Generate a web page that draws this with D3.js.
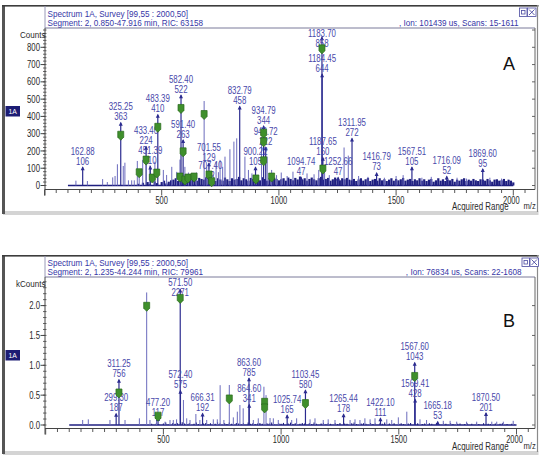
<!DOCTYPE html>
<html>
<head>
<meta charset="utf-8">
<title>Spectrum 1A</title>
<script src="https://cdn.jsdelivr.net/npm/d3@7/dist/d3.min.js"></script>
<style>
  body { margin: 0; background: #ffffff; }
  text { font-family: "Liberation Sans", Arial, sans-serif; }
</style>
</head>
<body>
<div id="chart"></div>
<script>
// ---------------- panel A data ----------------
var titleA = 'Spectrum 1A, Survey [99,55 : 2000,50]';
var segmentA = 'Segment: 2, 0.850-47.916 min, RIC: 63158';
var ionA = ', Ion: 101439 us, Scans: 15-1611';

// labelled peaks (m/z, counts)
var labelMzA = [162.88, 325.25, 433.40, 451.39, 483.39, 582.40, 591.40, 701.55, 707.40, 832.79, 900.22, 934.79, 943.72,
  1094.74, 1183.70, 1184.45, 1187.65, 1252.66, 1311.95, 1416.79, 1567.51, 1716.09, 1869.60];
var labelIntA = [106, 363, 224, 110, 410, 522, 263, 129, 22, 458, 105, 344, 222,
  47, 858, 644, 160, 47, 272, 73, 105, 52, 95];

// other visible peaks (m/z, counts)
var peakMzA = [134, 183, 248, 268, 291, 301, 311, 336, 343, 358, 372, 383, 396, 404, 419, 450, 471, 507, 521, 543,
  564, 578, 599, 614, 628, 649, 681, 692, 720, 732, 742, 749, 760, 770, 791, 808, 820, 855, 870, 885, 926, 950,
  969, 990, 1010, 1035, 1060, 1120, 1150, 1170, 1195, 1215, 1278, 1296, 1340, 1380, 1450, 1500, 1530, 1610, 1650,
  1760, 1800, 1900, 1950];
var peakIntA = [28, 26, 37, 20, 47, 55, 123, 113, 132, 30, 30, 30, 142, 77, 148, 116, 138, 90, 61, 108,
  79, 150, 108, 75, 58, 75, 489, 108, 61, 138, 77, 148, 108, 167, 210, 254, 273, 167, 90, 70, 244, 167,
  90, 60, 75, 55, 80, 70, 65, 90, 95, 60, 220, 173, 55, 50, 45, 55, 60, 45, 50,
  45, 40, 45, 40];

// dense low-level noise: one value every bandStepA m/z from bandStartA
var bandStartA = 400;
var bandStepA = 10;
var bandA = [10, 0, 16, 0, 20, 8, 0, 24, 14, 0, 20, 28, 12, 22, 30,
  34, 42, 26, 48, 38, 55, 30, 42, 36, 52, 28, 44, 38, 34, 48, 42,
  30, 38, 26, 42, 35, 28, 46, 36, 26, 42, 34, 38, 50, 30, 42, 36, 28, 44, 38, 34, 42, 30, 48, 38, 28, 42, 35, 45, 38, 30,
  36, 42, 28, 46, 38, 30, 44, 35, 52, 34, 42, 28, 38, 46, 36, 30, 42, 50, 34, 38, 44, 28, 36, 46, 38, 30, 42, 36, 44, 34,
  30, 38, 26, 35, 42, 28, 36, 44, 26, 34, 38, 28, 42, 30, 36, 26, 34, 42, 28, 38, 30, 36, 44, 28, 34, 38, 26, 36, 30, 42,
  28, 36, 26, 34, 38, 22, 30, 42, 28, 36, 26, 34, 30, 38, 22, 34, 28, 36, 42, 26, 34, 28, 38, 30, 26, 36, 34, 28, 38, 30,
  22, 34, 36, 28, 30, 38, 26, 34, 28, 18];

// green markers (m/z, counts)
var markMzA = [325.25, 404, 433.40, 460, 483.39, 479, 582.40, 591.40, 578, 599, 612, 638, 681, 702, 713, 902,
  934.79, 934.79, 934.79, 969, 1187.65, 1183.70];
var markIntA = [288, 71, 144, 40, 334, 69, 443, 192, 46, 29, 40, 46, 408, 58, 19, 35,
  300, 250, 140, 46, 92, 788];

var yTicksA = [0, 100, 200, 300, 400, 500, 600, 700, 800];

// ---------------- panel B data ----------------
var titleB = 'Spectrum 1A, Survey [99,55 : 2000,50]';
var segmentB = 'Segment: 2, 1.235-44.244 min, RIC: 79961';
var ionB = ', Ion: 76834 us, Scans: 22-1608';

var labelMzB = [299.30, 311.25, 477.20, 571.50, 572.40, 666.31, 863.60, 864.60, 1025.74, 1103.45, 1265.44, 1422.10,
  1567.60, 1569.41, 1665.18, 1870.50];
var labelIntB = [187, 756, 117, 2271, 575, 192, 785, 341, 165, 580, 178, 111, 1043, 428, 53, 201];

var peakMzB = [157, 181, 273, 337, 398, 429, 443, 471, 507, 528, 542, 556, 585, 599, 613, 638, 655, 684, 712, 729,
  741, 757, 780, 797, 814, 825, 839, 882, 903, 927, 936, 953, 967, 988, 1045, 1066, 1123, 1144, 1179, 1200, 1229,
  1293, 1314, 1335, 1356, 1378, 1399, 1449, 1470, 1498, 1534, 1590, 1618, 1689, 1718, 1746, 1788, 1831, 1895, 1916,
  1944, 1986];
var peakIntB = [84, 95, 84, 84, 112, 2220, 84, 84, 56, 84, 84, 95, 419, 112, 84, 184, 84, 84, 95, 95,
  667, 84, 670, 128, 223, 335, 279, 84, 112, 641, 500, 117, 112, 84, 84, 112, 95, 112, 84, 95, 84,
  84, 95, 84, 112, 95, 112, 95, 84, 128, 223, 95, 84, 70, 70, 56, 56, 56, 56, 56,
  56, 70];

var bandStartB = 450;
var bandStepB = 10;
var bandB = [20, 0, 30, 15, 0, 25, 40, 10, 0, 35, 20, 30, 0, 45, 25, 15,
  30, 0, 20, 40, 15, 0, 25, 35, 10, 30, 0, 20, 45, 25, 0, 30, 15, 40, 20, 0, 35, 25, 10, 30, 0, 40, 20, 30, 15, 25,
  35, 20, 0, 30, 25, 40, 10, 0, 30, 20, 35, 0, 25, 40, 15, 30, 0, 20, 35, 25, 0, 30, 15, 40, 20, 0, 25, 35, 10, 30,
  20, 0, 30, 15, 35, 0, 25, 20, 0, 30, 40, 15, 0, 25, 30, 20, 0, 35, 15, 25, 0, 30, 20, 40, 0, 25, 15, 30, 0, 20,
  30, 15, 0, 25, 35, 0, 20, 30, 0, 15, 25, 0, 30, 20, 0, 35, 15, 0, 25, 20, 0, 30, 15, 0, 20, 25, 0, 15, 30, 0,
  20, 0, 25, 15, 0, 30, 0, 20, 15, 0, 25, 0, 20, 30, 0, 15, 0, 20, 10];

var markMzB = [311.25, 429, 571.50, 477.20, 780, 930, 930, 1103.45, 1567.60];
var markIntB = [528, 1980, 2112, 140, 428, 372, 278, 350, 805];

var yTicksB = [0, 500, 1000, 1500, 2000];
var yTickLabelsB = ['0.0', '0.5', '1.0', '1.5', '2.0'];

var xTicks = [500, 1000, 1500, 2000];

// ---------------- drawing ----------------
var svg = d3.select('#chart')
  .append('svg')
  .attr('width', 546)
  .attr('height', 455);

var lineLabelled = '#2b2b8f';
var lineOther = '#6b6bbd';
var bandColor = '#1f1f80';
var labelColor = '#4848aa';
var titleColor = '#3636a6';

// text squeezed horizontally, like the narrow screen font of the original
function addText(parent, x, y, str, size, anchor, fill, sx) {
  return parent.append('text')
    .attr('transform', `translate(${x},${y}) scale(${sx},1)`)
    .attr('text-anchor', anchor)
    .attr('font-size', size + 'px')
    .attr('fill', fill)
    .text(str);
}

function drawPanel(p) {
  var g = svg.append('g');

  var x = d3.scaleLinear().domain([0, 2000]).range([p.x0, p.x2000]);
  var y = d3.scaleLinear().domain([0, p.yRef]).range([p.base, p.yRefPx]);

  // window frame
  g.append('rect')
    .attr('x', p.fx0).attr('y', p.fy0)
    .attr('width', p.fx1 - p.fx0).attr('height', p.fy1 - p.fy0)
    .attr('fill', '#ffffff');
  g.append('rect')
    .attr('x', p.fx0).attr('y', p.fy1 - 1)
    .attr('width', p.fx1 - p.fx0 + 1).attr('height', 4)
    .attr('fill', '#d4d4d4');
  g.append('rect')
    .attr('x', p.fx0 - 1).attr('y', p.fy0)
    .attr('width', 3).attr('height', p.fy1 - p.fy0 + 2)
    .attr('fill', '#555555');
  g.append('rect')
    .attr('x', p.fx0 - 1).attr('y', p.fy0)
    .attr('width', p.fx1 - p.fx0 + 2).attr('height', 1.6)
    .attr('fill', '#3c3c3c');
  g.append('line')
    .attr('x1', p.fx1).attr('x2', p.fx1)
    .attr('y1', p.fy0).attr('y2', p.fy1)
    .attr('stroke', '#8a8a8a').attr('stroke-width', 1.2);

  // title box
  g.append('line')
    .attr('x1', p.left).attr('x2', p.left)
    .attr('y1', p.fy0 + 1).attr('y2', p.top)
    .attr('stroke', '#9a9ab8').attr('stroke-width', 1);
  g.append('line')
    .attr('x1', p.left).attr('x2', p.right)
    .attr('y1', p.top).attr('y2', p.top)
    .attr('stroke', '#7a7a9a').attr('stroke-width', 1);

  addText(g, p.left + 2.5, p.top - 11, p.title, 9.5, 'start', titleColor, 0.86);
  addText(g, p.left + 2.5, p.top - 1.8, p.segment, 9.5, 'start', titleColor, 0.86);
  addText(g, p.ionRight, p.top - 1.8, p.ion, 9.5, 'end', titleColor, 0.86);

  // restore / close icons
  var ic = g.append('g').attr('transform', `translate(${p.iconX},${p.iconY})`);
  ic.append('rect').attr('x', 0).attr('y', 0).attr('width', 7.5).attr('height', 8.5)
    .attr('fill', '#fff').attr('stroke', '#4a4aa0').attr('stroke-width', 0.8);
  ic.append('rect').attr('x', 2).attr('y', 2.5).attr('width', 3.5).attr('height', 3.5)
    .attr('fill', 'none').attr('stroke', '#4a4aa0').attr('stroke-width', 0.8);
  ic.append('rect').attr('x', 8).attr('y', 0).attr('width', 8.5).attr('height', 8.5)
    .attr('fill', '#fff').attr('stroke', '#4a4aa0').attr('stroke-width', 0.8);
  ic.append('path').attr('d', 'M9.5,1.5 L15,7 M15,1.5 L9.5,7')
    .attr('stroke', '#4a4aa0').attr('stroke-width', 0.9);

  // axes frame
  g.append('line')
    .attr('x1', p.left).attr('x2', p.left)
    .attr('y1', p.top).attr('y2', p.axisY + 6)
    .attr('stroke', '#444').attr('stroke-width', 1);
  g.append('line')
    .attr('x1', p.left).attr('x2', p.right)
    .attr('y1', p.axisY).attr('y2', p.axisY)
    .attr('stroke', '#444').attr('stroke-width', 1);
  g.append('line')
    .attr('x1', p.right).attr('x2', p.right)
    .attr('y1', p.top).attr('y2', p.axisY)
    .attr('stroke', '#666').attr('stroke-width', 1);

  // x ticks every 50, longer at 500
  var xMinor = d3.range(0, 2101, 50).filter(v => x(v) <= p.right - 1);
  g.selectAll(null).data(xMinor).enter().append('line')
    .attr('x1', d => x(d)).attr('x2', d => x(d))
    .attr('y1', p.axisY)
    .attr('y2', d => p.axisY + (d % 500 === 0 ? 6 : 3.5))
    .attr('stroke', '#444').attr('stroke-width', 0.9);
  xTicks.forEach(function(v) {
    addText(g, x(v) - (v === 2000 ? 2 : 0), p.axisY + 14.5, String(v), 10, 'middle', '#2a2a2a', 0.75);
  });

  // y ticks
  var yMinor = d3.range(0, p.yMax + 1, p.yMinorStep).filter(v => y(v) >= p.top + 1);
  g.selectAll(null).data(yMinor).enter().append('line')
    .attr('x1', p.left - 2).attr('x2', p.left + 1.5)
    .attr('y1', d => y(d)).attr('y2', d => y(d))
    .attr('stroke', '#444').attr('stroke-width', 0.8);
  p.yTicks.forEach(function(v, i) {
    g.append('line')
      .attr('x1', p.left - 4.5).attr('x2', p.left)
      .attr('y1', y(v)).attr('y2', y(v))
      .attr('stroke', '#444').attr('stroke-width', 1);
    addText(g, p.left - 5, y(v) + 3.6, p.yLabels[i], 10, 'end', '#2a2a2a', 0.78);
  });
  // short ticks on the right border
  var yRight = d3.range(0, p.yMax + 1, p.yRightStep).filter(v => y(v) >= p.top);
  g.selectAll(null).data(yRight).enter().append('line')
    .attr('x1', p.right - 3).attr('x2', p.right)
    .attr('y1', d => y(d)).attr('y2', d => y(d))
    .attr('stroke', '#555').attr('stroke-width', 0.9);

  addText(g, p.left + 0.5, p.top + 9.5, p.yTitle, 9.5, 'end', '#2a2a2a', 0.85);

  // spectrum baseline
  g.append('line')
    .attr('x1', x(100)).attr('x2', x(2000))
    .attr('y1', y(0)).attr('y2', y(0))
    .attr('stroke', bandColor).attr('stroke-width', 1.4);

  // low-level noise band
  g.selectAll(null).data(p.band).enter().append('line')
    .attr('x1', (d, i) => x(p.bandStart + i * p.bandStep))
    .attr('x2', (d, i) => x(p.bandStart + i * p.bandStep))
    .attr('y1', y(0))
    .attr('y2', d => y(d))
    .attr('stroke', bandColor)
    .attr('stroke-width', p.bandWidth);

  // unlabelled peaks
  g.selectAll(null).data(p.peakMz).enter().append('line')
    .attr('x1', d => x(d)).attr('x2', d => x(d))
    .attr('y1', y(0))
    .attr('y2', (d, i) => y(p.peakInt[i]))
    .attr('stroke', lineOther)
    .attr('stroke-width', 1);

  // labelled peaks with arrow heads
  g.selectAll(null).data(p.labelMz).enter().append('line')
    .attr('x1', d => x(d)).attr('x2', d => x(d))
    .attr('y1', y(0))
    .attr('y2', (d, i) => y(p.labelInt[i]))
    .attr('stroke', lineLabelled)
    .attr('stroke-width', 1.2);
  g.selectAll(null).data(p.labelMz).enter().append('path')
    .attr('d', (d, i) => {
      var px = x(d), py = y(p.labelInt[i]);
      return `M${px},${py - 1} L${px - 2},${py + 3} L${px + 2},${py + 3} Z`;
    })
    .attr('fill', lineLabelled);

  // peak labels: m/z over counts, kept inside the plot
  p.labelMz.forEach(function(mz, i) {
    var ty = Math.max(y(p.labelInt[i]) - 2.5, p.top + 19);
    addText(g, x(mz), ty - 10, mz.toFixed(2), 10.5, 'middle', labelColor, 0.75);
    addText(g, x(mz), ty, String(p.labelInt[i]), 10.5, 'middle', labelColor, 0.75);
  });

  // green markers
  g.selectAll(null).data(p.markMz).enter().append('path')
    .attr('transform', (d, i) => `translate(${x(d)},${y(p.markInt[i])})`)
    .attr('d', 'M-3,-4.5 L3,-4.5 L3,1.5 L0,4.5 L-3,1.5 Z')
    .attr('fill', '#3f8f2c')
    .attr('stroke', '#2a6a1c')
    .attr('stroke-width', 0.7);

  // panel letter
  g.append('text')
    .attr('x', 509).attr('y', p.letterY)
    .attr('text-anchor', 'middle')
    .attr('font-family', '"Liberation Serif", "Times New Roman", serif')
    .attr('font-size', '18px')
    .attr('fill', '#111')
    .text(p.letter);

  // bottom captions
  addText(g, 452, p.captionY, 'Acquired Range', 10, 'start', '#2a2a2a', 0.79);
  addText(g, 523.5, p.captionY - 1, 'm/z', 9.5, 'start', '#2a2a2a', 0.8);

  // "1A" tag
  g.append('rect')
    .attr('x', 5.5).attr('y', p.tagY)
    .attr('width', 14.5).attr('height', 10.5)
    .attr('fill', '#1c1c74');
  addText(g, 12.7, p.tagY + 8, '1A', 8, 'middle', '#ffffff', 0.85);
}

drawPanel({
  fx0: 3, fy0: 5, fx1: 537.5, fy1: 212,
  left: 45, right: 535, top: 28, axisY: 189.5, base: 185.5,
  x0: 44.5, x2000: 513.3,
  yRef: 800, yRefPx: 47.3, yMax: 900, yMinorStep: 20, yRightStep: 100,
  yTicks: yTicksA, yLabels: yTicksA.map(String), yTitle: 'Counts',
  title: titleA, segment: segmentA, ion: ionA, ionRight: 518.5,
  iconX: 519.5, iconY: 8,
  labelMz: labelMzA, labelInt: labelIntA,
  peakMz: peakMzA, peakInt: peakIntA,
  band: bandA, bandStart: bandStartA, bandStep: bandStepA, bandWidth: 2.2,
  markMz: markMzA, markInt: markIntA,
  letter: 'A', letterY: 70, captionY: 209.5, tagY: 106
});

drawPanel({
  fx0: 3, fy0: 255, fx1: 537.5, fy1: 452,
  left: 45, right: 535, top: 277, axisY: 428.5, base: 425,
  x0: 45.7, x2000: 516.5,
  yRef: 2000, yRefPx: 305.6, yMax: 2400, yMinorStep: 100, yRightStep: 500,
  yTicks: yTicksB, yLabels: yTickLabelsB, yTitle: 'kCounts',
  title: titleB, segment: segmentB, ion: ionB, ionRight: 521.5,
  iconX: 522, iconY: 258,
  labelMz: labelMzB, labelInt: labelIntB,
  peakMz: peakMzB, peakInt: peakIntB,
  band: bandB, bandStart: bandStartB, bandStep: bandStepB, bandWidth: 1.1,
  markMz: markMzB, markInt: markIntB,
  letter: 'B', letterY: 327, captionY: 449.5, tagY: 350
});
</script>
</body>
</html>
